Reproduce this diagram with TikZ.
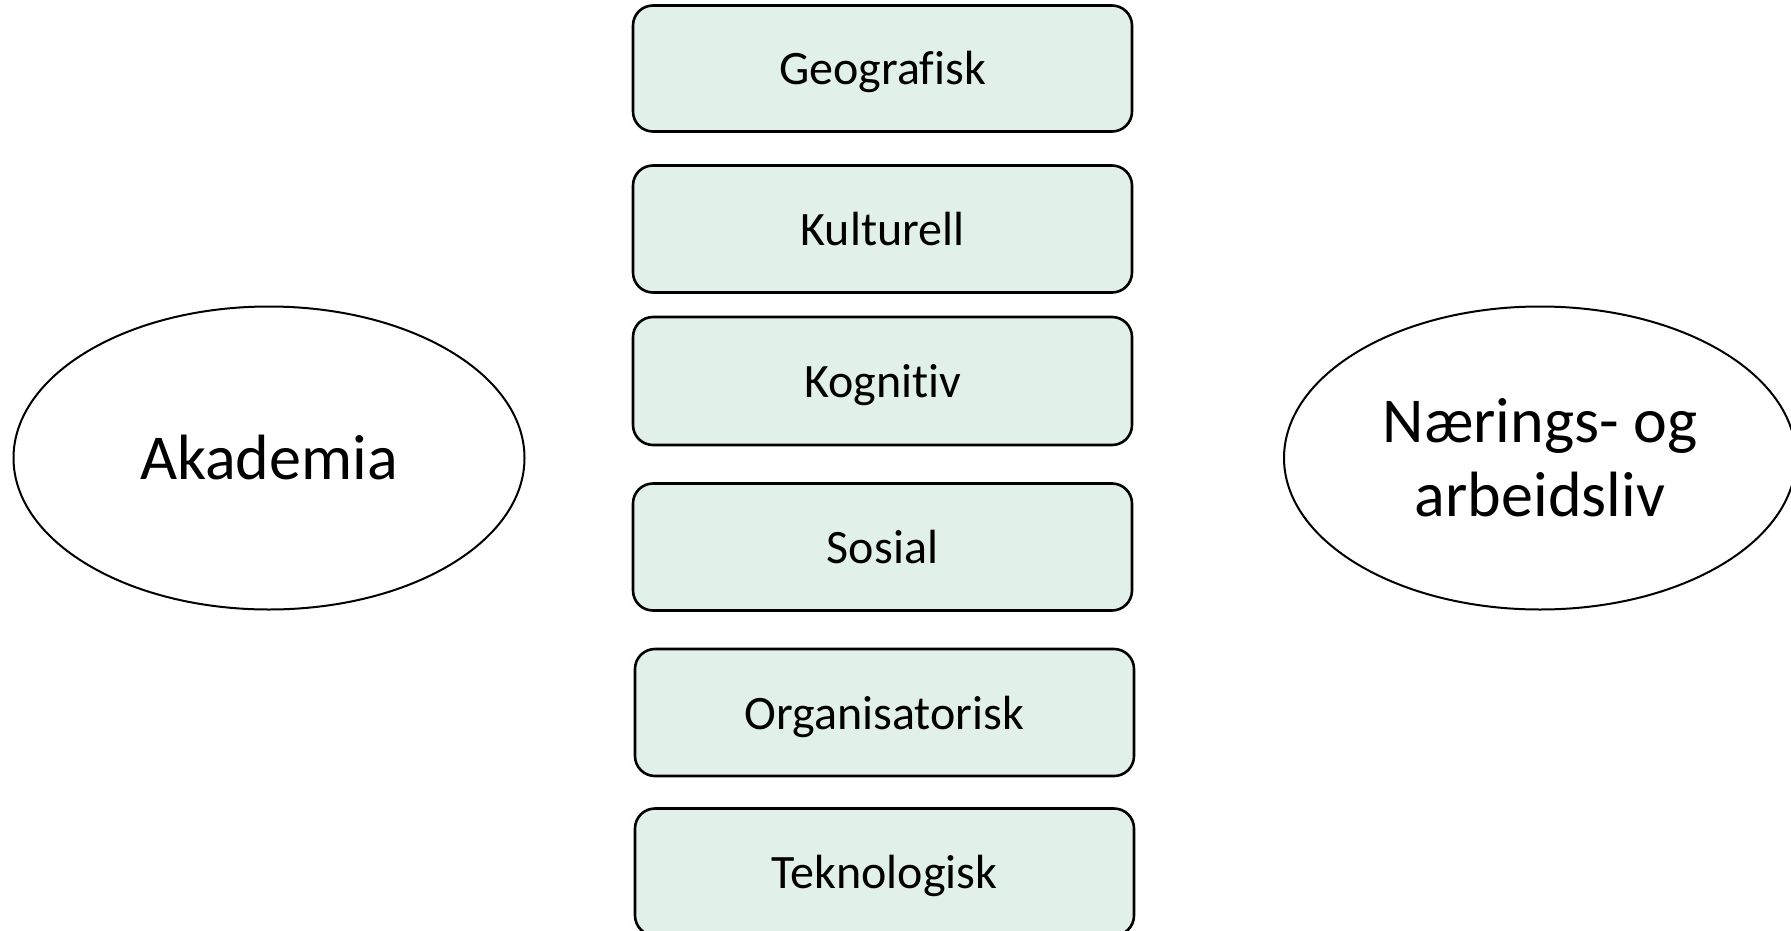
\documentclass[tikz,border=0pt]{standalone}
\usepackage{fontspec}
\setmainfont[Ligatures={NoCommon,NoRequired,NoContextual}]{Carlito}
\usetikzlibrary{shapes.geometric}
\definecolor{boxfill}{HTML}{E2F0EA}
\tikzset{
  dimbox/.style={draw=black, line width=2.6pt, fill=boxfill, rounded corners=20pt,
    rectangle, inner sep=0pt, minimum width=499pt, text height=33pt, text depth=0pt,
    font=\fontsize{48}{57}\selectfont},
  sphere/.style={draw=black, line width=2pt, ellipse, inner sep=0pt, align=center,
    font=\fontsize{64}{74}\selectfont}
}
\begin{document}
\begin{tikzpicture}[x=1pt,y=-1pt]
\useasboundingbox (0,0) rectangle (1791,931);
\node[dimbox, minimum height=126pt] (geo) at (882.5,68.5) {Geografisk};
\node[dimbox, minimum height=127pt] (kul) at (882.5,229) {Kulturell};
\node[dimbox, minimum height=128pt] (kog) at (882.5,381) {Kognitiv};
\node[dimbox, minimum height=127pt] (sos) at (882.5,547) {Sosial};
\node[dimbox, minimum height=127pt] (org) at (884.5,712.5) {Organisatorisk};
\node[dimbox, minimum height=127pt] (tek) at (884.5,872) {Teknologisk};
\node[sphere, minimum width=511pt, minimum height=303pt] (aka) at (269,458) {Akademia};
\node[sphere, minimum width=512pt, minimum height=303pt] (nar) at (1540,458) {Nærings- og\\arbeidsliv};
\end{tikzpicture}
\end{document}
